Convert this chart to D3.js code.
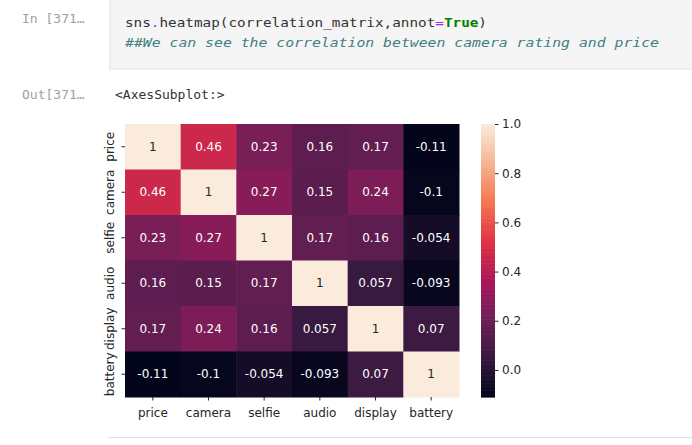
<!DOCTYPE html>
<html>
<head>
<meta charset="utf-8">
<script src="https://cdn.jsdelivr.net/npm/d3@7"></script>
<style>
  body { margin: 0; background: #fff; }
  svg { display: block; }
</style>
</head>
<body>
<svg width="692" height="445"></svg>
<script>
const labels = ["price", "camera", "selfie", "audio", "display", "battery"];
const corr = [
  [1, 0.46, 0.23, 0.16, 0.17, -0.11],
  [0.46, 1, 0.27, 0.15, 0.24, -0.1],
  [0.23, 0.27, 1, 0.17, 0.16, -0.054],
  [0.16, 0.15, 0.17, 1, 0.057, -0.093],
  [0.17, 0.24, 0.16, 0.057, 1, 0.07],
  [-0.11, -0.1, -0.054, -0.093, 0.07, 1]
];
const cbarTicks = [0.0, 0.2, 0.4, 0.6, 0.8, 1.0];

// rocket colormap stops
const rocket = ["#03051a", "#35193e", "#701f57", "#ad1759", "#e13342", "#f37651", "#f6b48f", "#faebdd"];

const svg = d3.select("svg");

// notebook chrome
svg.append("rect")
  .attr("x", 110).attr("y", -1).attr("width", 590).attr("height", 70)
  .attr("fill", "#f5f5f5").attr("stroke", "#e0e0e0");

const mono = "'DejaVu Sans Mono', 'Liberation Mono', monospace";
svg.append("text").attr("x", 22).attr("y", 23)
  .attr("font-family", mono).attr("font-size", 13).attr("fill", "#9e9e9e")
  .text("In [371…");
svg.append("text").attr("x", 22).attr("y", 99)
  .attr("font-family", mono).attr("font-size", 13).attr("fill", "#9e9e9e")
  .text("Out[371…");
svg.append("text").attr("x", 115).attr("y", 99)
  .attr("font-family", mono).attr("font-size", 13).attr("fill", "#333")
  .text("<AxesSubplot:>");

const code = svg.append("text").attr("x", 125).attr("y", 27)
  .attr("font-family", mono).attr("font-size", 13).attr("fill", "#333")
  .attr("textLength", 362).attr("lengthAdjust", "spacingAndGlyphs");
code.append("tspan").text("sns");
code.append("tspan").attr("fill", "#aa22ff").text(".");
code.append("tspan").text("heatmap(correlation_matrix,annot");
code.append("tspan").attr("fill", "#aa22ff").text("=");
code.append("tspan").attr("fill", "#008000").attr("font-weight", "bold").text("True");
code.append("tspan").text(")");
svg.append("text").attr("x", 125).attr("y", 47)
  .attr("font-family", mono).attr("font-size", 13).attr("fill", "#408080")
  .attr("font-style", "italic")
  .attr("textLength", 534).attr("lengthAdjust", "spacingAndGlyphs")
  .text("##We can see the correlation between camera rating and price");

svg.append("line")
  .attr("x1", 108).attr("x2", 692).attr("y1", 437.5).attr("y2", 437.5)
  .attr("stroke", "#e0e0e0");

// heatmap
const plotLeft = 125, plotTop = 124, plotW = 334, plotH = 273;
const x = d3.scaleBand().domain(labels).range([plotLeft, plotLeft + plotW]);
const y = d3.scaleBand().domain(labels).range([plotTop, plotTop + plotH]);

const vmin = d3.min(corr.flat()), vmax = d3.max(corr.flat());
const norm = d3.scaleLinear().domain([vmin, vmax]).range([0, 1]);
const ramp = d3.scaleLinear()
  .domain(d3.range(rocket.length).map(i => i / (rocket.length - 1)))
  .range(rocket)
  .interpolate(d3.interpolateRgb);
const color = v => ramp(norm(v));

const font = "'DejaVu Sans', sans-serif";
const cells = [];
corr.forEach((row, i) => row.forEach((v, j) => cells.push({r: labels[i], c: labels[j], v})));

svg.append("g").selectAll("rect")
  .data(cells).join("rect")
  .attr("x", d => x(d.c)).attr("y", d => y(d.r))
  .attr("width", x.bandwidth() + 0.5).attr("height", y.bandwidth() + 0.5)
  .attr("fill", d => color(d.v));

function lum(c) {
  const rgb = d3.rgb(c);
  const f = u => { u /= 255; return u <= 0.03928 ? u / 12.92 : Math.pow((u + 0.055) / 1.055, 2.4); };
  return 0.2126 * f(rgb.r) + 0.7152 * f(rgb.g) + 0.0722 * f(rgb.b);
}

svg.append("g").selectAll("text")
  .data(cells).join("text")
  .attr("x", d => x(d.c) + x.bandwidth() / 2)
  .attr("y", d => y(d.r) + y.bandwidth() / 2)
  .attr("dy", "0.35em")
  .attr("text-anchor", "middle")
  .attr("font-family", font).attr("font-size", 12)
  .attr("fill", d => lum(color(d.v)) > 0.408 ? "#262626" : "#fff")
  .text(d => String(d.v));

// axes
const xAxis = svg.append("g")
  .attr("transform", `translate(0,${plotTop + plotH})`)
  .call(d3.axisBottom(x).tickSize(3.5).tickPadding(4));
const yAxis = svg.append("g")
  .attr("transform", `translate(${plotLeft},0)`)
  .call(d3.axisLeft(y).tickSize(3.5).tickPadding(4));
[xAxis, yAxis].forEach(g => {
  g.select(".domain").remove();
  g.selectAll("line").attr("stroke", "#262626");
  g.selectAll("text").attr("font-family", font).attr("font-size", 12).attr("fill", "#262626");
});
xAxis.selectAll("text").attr("dy", "1em");
yAxis.selectAll(".tick text")
  .attr("text-anchor", "middle")
  .attr("x", 0).attr("y", 0).attr("dy", 0)
  .attr("transform", "translate(-11,0) rotate(-90)");

// colorbar
const cbX = 481, cbW = 14;
const cb = d3.scaleLinear().domain([vmin, vmax]).range([plotTop + plotH, plotTop]);
const steps = d3.range(0, 200);
svg.append("g").selectAll("rect")
  .data(steps).join("rect")
  .attr("x", cbX).attr("width", cbW)
  .attr("y", i => plotTop + plotH * i / 200)
  .attr("height", plotH / 200 + 0.6)
  .attr("fill", i => ramp(1 - (i + 0.5) / 200));

const cbAxis = svg.append("g")
  .attr("transform", `translate(${cbX + cbW},0)`)
  .call(d3.axisRight(cb).tickValues(cbarTicks).tickFormat(d3.format(".1f")).tickSize(3.5).tickPadding(3.5));
cbAxis.select(".domain").remove();
cbAxis.selectAll("line").attr("stroke", "#262626");
cbAxis.selectAll("text").attr("font-family", font).attr("font-size", 12).attr("fill", "#262626");
</script>
</body>
</html>
